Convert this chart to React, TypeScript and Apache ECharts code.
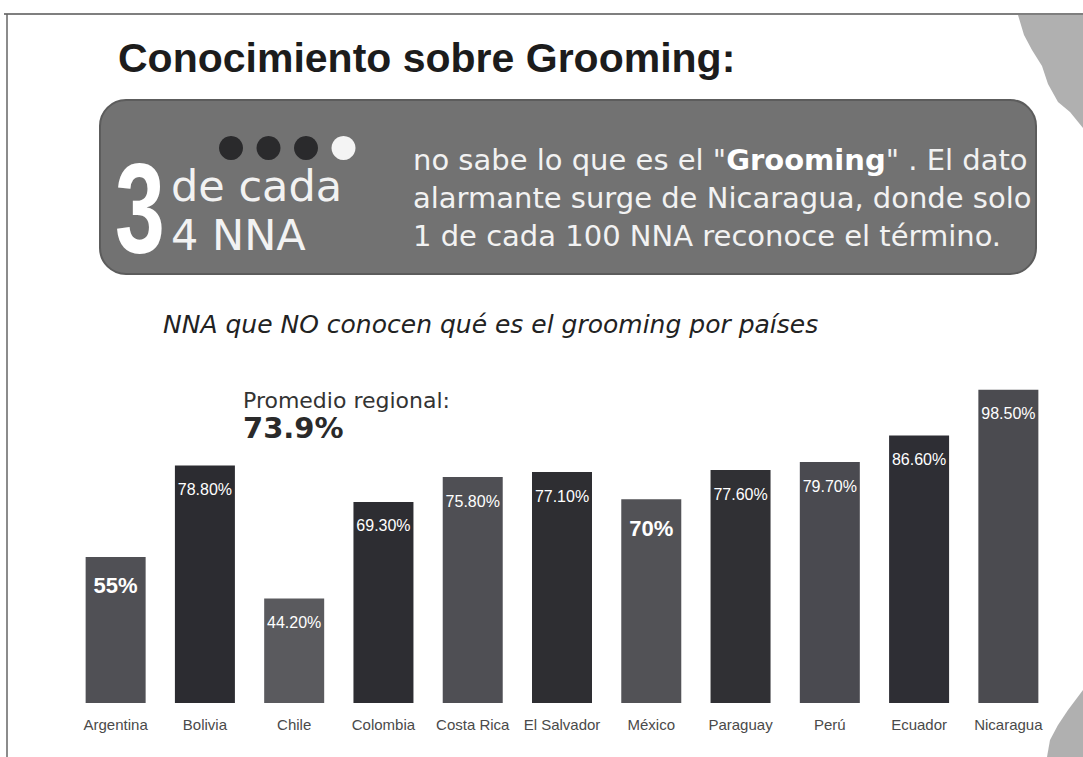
import React, { useEffect, useRef } from "react";
import * as echarts from "echarts";

const categories = ["Argentina", "Bolivia", "Chile", "Colombia", "Costa Rica", "El Salvador", "México", "Paraguay", "Perú", "Ecuador", "Nicaragua"];
const values = [55, 78.8, 44.2, 69.3, 75.8, 77.1, 70, 77.6, 79.7, 86.6, 98.5];
const valueLabels = ["55%", "78.80%", "44.20%", "69.30%", "75.80%", "77.10%", "70%", "77.60%", "79.70%", "86.60%", "98.50%"];
const barColors = ["#505055", "#2c2c31", "#5a5a5e", "#2d2d32", "#4f4f54", "#2e2e32", "#525256", "#303034", "#4a4a50", "#2e2e34", "#4b4b50"];
const bigLabelIdx = [0, 6];

const title = "Conocimiento sobre Grooming:";
const subtitle = "NNA que NO conocen qué es el grooming por países";
const avgLabel = "Promedio regional:";
const avgValue = "73.9%";

const LIB = "'Liberation Sans', Arial, sans-serif";
const SANS = "'DejaVu Sans', sans-serif";

export default function App() {
  const ref = useRef<HTMLDivElement>(null);
  useEffect(() => {
    document.body.style.margin = "0";
    const chart = echarts.init(ref.current!, null, { renderer: "svg" });
    const dots = [0, 1, 2, 3].map((i) => ({
      type: "circle",
      shape: { cx: 231 + i * 37.5, cy: 148, r: 12 },
      style: { fill: i < 3 ? "#2a2a2c" : "#f4f4f4" },
      z: 12,
    }));
    chart.setOption({
      animation: false,
      backgroundColor: "#ffffff",
      grid: { left: 71, right: 30, top: 384, bottom: 54 },
      xAxis: {
        type: "category",
        data: categories,
        axisLine: { show: false },
        axisTick: { show: false },
        axisLabel: { color: "#4a4a4a", fontSize: 15, fontFamily: LIB, margin: 14, interval: 0 },
      },
      yAxis: { type: "value", min: 17, max: 100, show: false, splitLine: { show: false } },
      series: [
        {
          type: "bar",
          barWidth: 60,
          data: values.map((v, i) => ({
            value: v,
            itemStyle: { color: barColors[i] },
            label: bigLabelIdx.includes(i) ? { fontSize: 22, distance: 18, fontWeight: "bold" } : {},
          })),
          label: {
            show: true,
            position: "insideTop",
            distance: 16,
            color: "#ffffff",
            fontSize: 16,
            fontFamily: LIB,
            formatter: (p: any) => valueLabels[p.dataIndex],
          },
        },
      ],
      graphic: [
        { type: "line", shape: { x1: 4, y1: 14, x2: 1083, y2: 14 }, style: { stroke: "#555", lineWidth: 1.5 } },
        { type: "line", shape: { x1: 7, y1: 14, x2: 7, y2: 757 }, style: { stroke: "#666", lineWidth: 1.5 } },
        {
          type: "polygon",
          shape: { points: [[1018, 15], [1083, 15], [1083, 128], [1070, 112], [1058, 102], [1048, 84], [1042, 66], [1032, 50], [1024, 35]] },
          style: { fill: "#b0b0b0" },
        },
        {
          type: "polygon",
          shape: { points: [[1083, 690], [1083, 757], [1047, 757], [1050, 740], [1058, 725], [1068, 710]] },
          style: { fill: "#b0b0b0" },
        },
        {
          type: "text",
          x: 118,
          y: 58,
          style: { text: title, font: "bold 41px " + LIB, fill: "#1c1c1c", verticalAlign: "middle" },
        },
        {
          type: "rect",
          shape: { x: 100, y: 100, width: 936, height: 174, r: 26 },
          style: { fill: "#727272", stroke: "#5c5c5c", lineWidth: 2 },
          z: 10,
        },
        ...dots,
        {
          type: "text",
          x: 115,
          y: 208,
          scaleX: 0.7,
          style: { text: "3", font: "bold 128px " + LIB, fill: "#ffffff", verticalAlign: "middle" },
          z: 12,
        },
        {
          type: "text",
          x: 171,
          y: 186,
          style: { text: "de cada", font: "43px " + SANS, fill: "#f2f2f2", verticalAlign: "middle" },
          z: 12,
        },
        {
          type: "text",
          x: 171,
          y: 235,
          style: { text: "4 NNA", font: "43px " + SANS, fill: "#f2f2f2", verticalAlign: "middle" },
          z: 12,
        },
        {
          type: "text",
          x: 413,
          y: 160,
          style: {
            text: "{r|no sabe lo que es el \"}{b|Grooming}{r|\" . El dato}",
            verticalAlign: "middle",
            rich: {
              r: { font: "29px " + SANS, fill: "#f2f2f2" },
              b: { font: "bold 29px " + SANS, fill: "#ffffff" },
            },
          },
          z: 12,
        },
        {
          type: "text",
          x: 413,
          y: 198,
          style: { text: "alarmante surge de Nicaragua, donde solo", font: "29px " + SANS, fill: "#f2f2f2", verticalAlign: "middle" },
          z: 12,
        },
        {
          type: "text",
          x: 413,
          y: 236,
          style: { text: "1 de cada 100 NNA reconoce el término.", font: "29px " + SANS, fill: "#f2f2f2", verticalAlign: "middle" },
          z: 12,
        },
        {
          type: "text",
          x: 163,
          y: 324,
          style: { text: subtitle, font: "italic 25px " + SANS, fill: "#222222", verticalAlign: "middle" },
        },
        {
          type: "text",
          x: 243,
          y: 400,
          style: { text: avgLabel, font: "22px " + SANS, fill: "#333333", verticalAlign: "middle" },
        },
        {
          type: "text",
          x: 243,
          y: 428,
          style: { text: avgValue, font: "bold 29px " + SANS, fill: "#2a2a2a", verticalAlign: "middle" },
        },
      ],
    });
    return () => chart.dispose();
  }, []);
  return <div ref={ref} style={{ width: 1083, height: 757 }} />;
}
